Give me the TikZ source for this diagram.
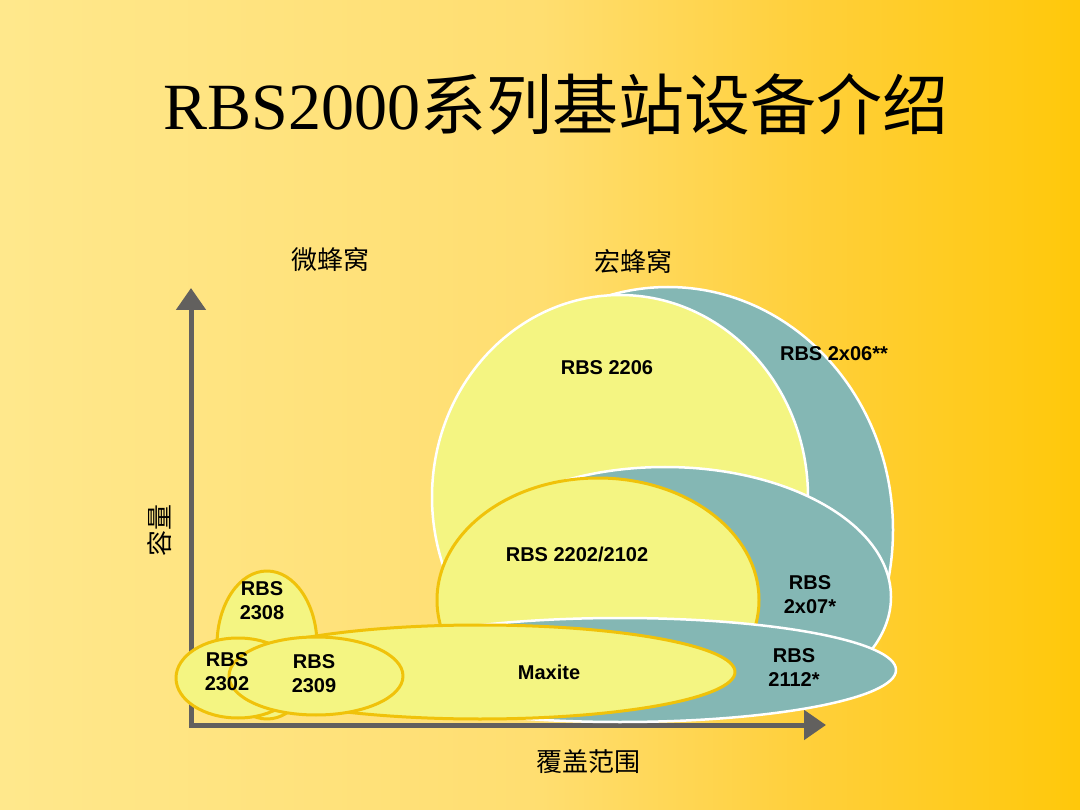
\documentclass[tikz,border=0pt]{standalone}
\usepackage{fontspec}
\setmainfont{Liberation Serif}
\setsansfont{Liberation Sans}
\newfontfamily\cjk{Noto Sans CJK SC}
\usepackage{tikz}
\usetikzlibrary{arrows.meta}

\definecolor{axisgray}{RGB}{98,96,94}
\definecolor{cellyellow}{RGB}{244,245,130}
\definecolor{cellteal}{RGB}{132,183,180}
\definecolor{cellgold}{RGB}{240,194,10}

\pgfdeclarehorizontalshading{slidebg}{100bp}{%
	rgb(0bp)=(1,0.91,0.55); rgb(25bp)=(1,0.91,0.55);
	rgb(50bp)=(1,0.87,0.44); rgb(62bp)=(1,0.815,0.235);
	rgb(75bp)=(1,0.784,0.04); rgb(100bp)=(1,0.784,0.04)}

\begin{document}
\begin{tikzpicture}[
				x=1pt, y=-1pt,
				every node/.style={font=\sffamily\bfseries\fontsize{20}{24}\selectfont, inner sep=0pt, align=center},
				line cap=round,
				line join=round,
				macro/.style={fill=cellteal, draw=white, line width=2.5pt},
				bigcell/.style={fill=cellyellow, draw=white, line width=2.5pt},
				smallcell/.style={fill=cellyellow, draw=cellgold, line width=3pt},
				axis/.style={draw=axisgray, line width=5pt, line join=miter,
					{Triangle[length=22pt,width=29pt]}-{Triangle[length=22pt,width=29pt]}},
				cnlabel/.style={font=\cjk\fontsize{26}{30}\selectfont}
				]
				
				% Background
				\useasboundingbox (0,0) rectangle (1080,810);
				\shade[shading=slidebg] (0,0) rectangle (1080,810);
				
				% Title
				\node[font=\rmfamily\fontsize{66}{72}\selectfont, anchor=base] (title)
				at (556,130) {RBS2000{\cjk 系列基站设备介绍}};
				
				% Axes
				\coordinate (origin) at (191,725);
				\coordinate (ytip) at (191,288);
				\coordinate (xtip) at (826,725);
				\draw[axis] (ytip) -- (origin) -- (xtip);
				
				\node[cnlabel] (micro) at (330,260) {微蜂窝};
				\node[cnlabel] (macrolbl) at (633,262) {宏蜂窝};
				\node[cnlabel, rotate=90] (capacity) at (160,530) {容量};
				\node[cnlabel] (coverage) at (588,762) {覆盖范围};
				
				% Macro cells (lower halves hidden)
				\begin{scope}
					\clip (0,0) rectangle (1080,670);
					\draw[macro] (668,530) ellipse [x radius=225, y radius=243];
					\draw[bigcell] (620,497) ellipse [x radius=188, y radius=202];
					\draw[macro] (665,597) ellipse [x radius=226, y radius=130];
					\draw[smallcell] (598,600) ellipse [x radius=161, y radius=122];
				\end{scope}
				\draw[macro] (620,670) ellipse [x radius=276, y radius=52];
				
				% Micro cells
				\draw[smallcell] (267,645) ellipse [x radius=50, y radius=74];
				\draw[smallcell] (480,672) ellipse [x radius=255, y radius=47];
				\draw[smallcell] (238,678) ellipse [x radius=62, y radius=40];
				\draw[smallcell] (316,676) ellipse [x radius=87, y radius=39];
				
				% Labels
				\node (l2206) at (607,368) {RBS 2206};
				\node (l2x06) at (834,354) {RBS 2x06**};
				\node (l2202) at (577,554) {RBS 2202/2102};
				\node (l2x07) at (810,595) {RBS\\2x07*};
				\node (l2112) at (794,668) {RBS\\2112*};
				\node (lmaxite) at (549,672) {Maxite};
				\node (l2308) at (262,601) {RBS\\2308};
				\node (l2302) at (227,672) {RBS\\2302};
				\node (l2309) at (314,674) {RBS\\2309};
				
			\end{tikzpicture}
\end{document}
